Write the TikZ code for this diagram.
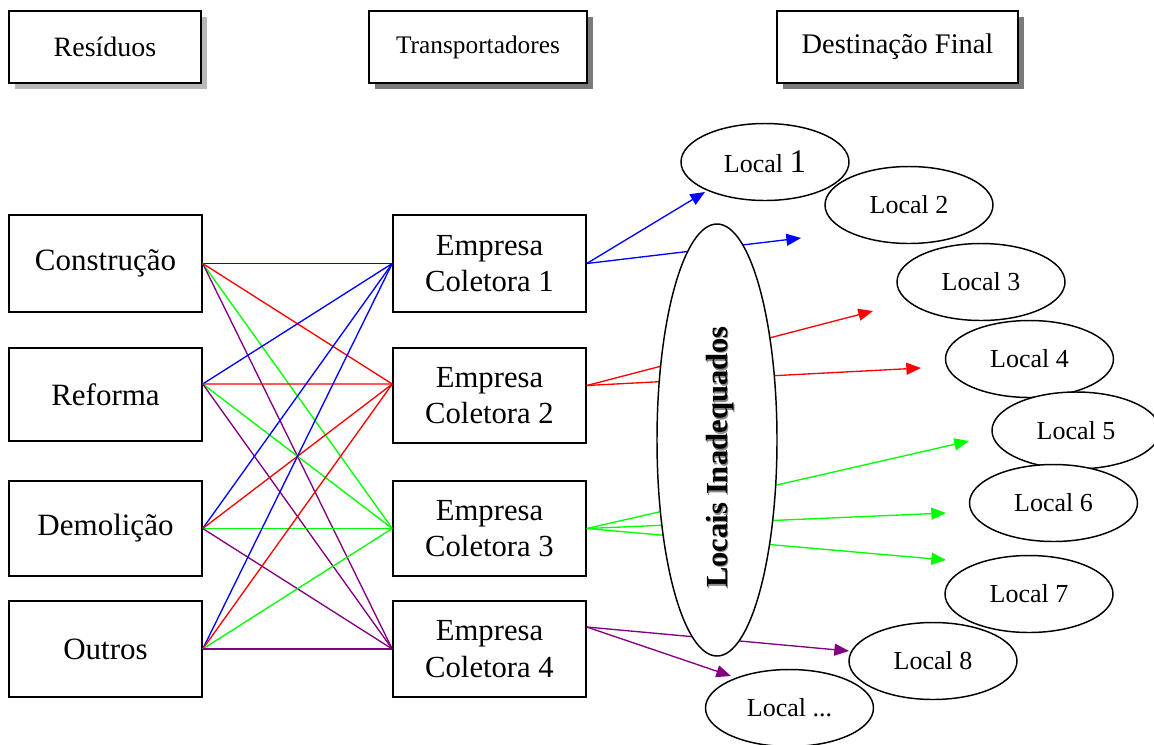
\documentclass[tikz,border=0pt]{standalone}
\usepackage{fontspec}
\setmainfont{Liberation Serif}
\usetikzlibrary{shapes.geometric,arrows.meta,shadows}
\definecolor{lnblue}{RGB}{0,0,255}
\definecolor{lnred}{RGB}{255,0,0}
\definecolor{lngreen}{RGB}{0,255,0}
\definecolor{lnpurple}{RGB}{128,0,128}
\begin{document}
\begin{tikzpicture}[x=0.75pt,y=-0.75pt,
  headbox/.style={draw,line width=1.1pt,fill=white,minimum height=54pt,inner sep=0pt},
  lightshadow/.style={drop shadow={shadow xshift=4.5pt,shadow yshift=-4.5pt,fill=black!28,opacity=1}},
  darkshadow/.style={drop shadow={shadow xshift=4.5pt,shadow yshift=-4.5pt,fill=black!52,opacity=1}},
  wastebox/.style={draw,line width=1.1pt,fill=white,minimum width=144.75pt,inner sep=0pt,
    font=\fontsize{23.25}{28}\selectfont},
  firmbox/.style={draw,line width=1.1pt,fill=white,minimum width=144.75pt,inner sep=0pt,
    align=center,font=\fontsize{23}{27.5}\selectfont},
  place/.style={draw,ellipse,line width=1.1pt,fill=white,minimum width=126pt,
    minimum height=57.75pt,inner sep=0pt,font=\fontsize{19.5}{23}\selectfont},
  link/.style={line width=1pt},
  route/.style={line width=1pt,-{Triangle[length=11pt,width=9pt]}}
]
\useasboundingbox (0,0) rectangle (1154,744);

% column headings
\node[headbox,lightshadow,minimum width=144pt,font=\fontsize{21}{25}\selectfont] (hres) at (105,47) {Resíduos};
\node[headbox,darkshadow,minimum width=163.5pt,font=\fontsize{19}{23}\selectfont] (htra) at (478,47) {Transportadores};
\node[headbox,darkshadow,minimum width=180.75pt,font=\fontsize{21.3}{25}\selectfont] (hdes) at (897.5,47) {Destinação Final};

% kinds of waste
\node[wastebox,minimum height=72.75pt] (cons) at (105.5,263.5) {Construção};
\node[wastebox,minimum height=69.75pt] (refo) at (105.5,394.5) {Reforma};
\node[wastebox,minimum height=71.25pt] (demo) at (105.5,528.5) {Demolição};
\node[wastebox,minimum height=72pt] (outr) at (105.5,649) {Outros};

% collecting companies
\node[firmbox,minimum height=72.75pt] (emp1) at (489.5,263.5) {Empresa\\Coletora 1};
\node[firmbox,minimum height=71.25pt] (emp2) at (489.5,395.5) {Empresa\\Coletora 2};
\node[firmbox,minimum height=71.25pt] (emp3) at (489.5,528.5) {Empresa\\Coletora 3};
\node[firmbox,minimum height=72pt] (emp4) at (489.5,649) {Empresa\\Coletora 4};

% attachment points that sit off the box centres
\coordinate (refoP) at ([yshift=7.9pt]refo.east);
\coordinate (emp2P) at ([yshift=8.6pt]emp2.west);
\coordinate (emp2Q) at ([yshift=7.5pt]emp2.east);
\coordinate (emp4Q) at ([yshift=16.5pt]emp4.east);

% every kind of waste goes to every company (colour = company)
\foreach \src in {cons.east,refoP,demo.east,outr.east}{
  \draw[link,lnblue] (\src) -- (emp1.west);
  \draw[link,lnred] (\src) -- (emp2P);
  \draw[link,lngreen] (\src) -- (emp3.west);
  \draw[link,lnpurple] (\src) -- (emp4.west);
}

% arrow ends towards the disposal sites
\coordinate (t1a) at (705,192);
\coordinate (t1b) at (801,238);
\coordinate (t2a) at (873,311);
\coordinate (t2b) at (921,368);
\coordinate (t3a) at (969,441);
\coordinate (t3b) at (946,513);
\coordinate (t3c) at (946,560);
\coordinate (t4a) at (849,651);
\coordinate (t4b) at (731,676);

\draw[route,lnblue] (emp1.east) -- (t1a);
\draw[route,lnblue] (emp1.east) -- (t1b);
\draw[route,lnred] (emp2Q) -- (t2a);
\draw[route,lnred] (emp2Q) -- (t2b);
\draw[route,lngreen] (emp3.east) -- (t3a);
\draw[route,lngreen] (emp3.east) -- (t3b);
\draw[route,lngreen] (emp3.east) -- (t3c);
\draw[route,lnpurple] (emp4Q) -- (t4a);
\draw[route,lnpurple] (emp4Q) -- (t4b);

% improper sites, covering the routes
\node[draw,ellipse,line width=1.1pt,fill=white,minimum width=90pt,minimum height=324pt,inner sep=0pt] (inad) at (717,440) {};
\node[rotate=90,text=black!45,font=\bfseries\fontsize{23}{27}\selectfont] (inadsh) at (721.5,458.5) {Locais Inadequados};
\node[rotate=90,font=\bfseries\fontsize{23}{27}\selectfont] (inadtx) at (720,457) {Locais Inadequados};

% disposal sites
\node[place] (loc1) at (765,162) {Local {\fontsize{24.75}{28}\selectfont 1}};
\node[place] (loc2) at (909,205) {Local 2};
\node[place] (loc3) at (981,282) {Local 3};
\node[place] (loc4) at (1029.5,359) {Local 4};
\node[place] (loc5) at (1076,430.5) {Local 5};
\node[place] (loc6) at (1053.5,503) {Local 6};
\node[place] (loc7) at (1029,594) {Local 7};
\node[place] (loc8) at (933,661) {Local 8};
\node[place] (locn) at (789.5,708) {Local ...};
\end{tikzpicture}
\end{document}
